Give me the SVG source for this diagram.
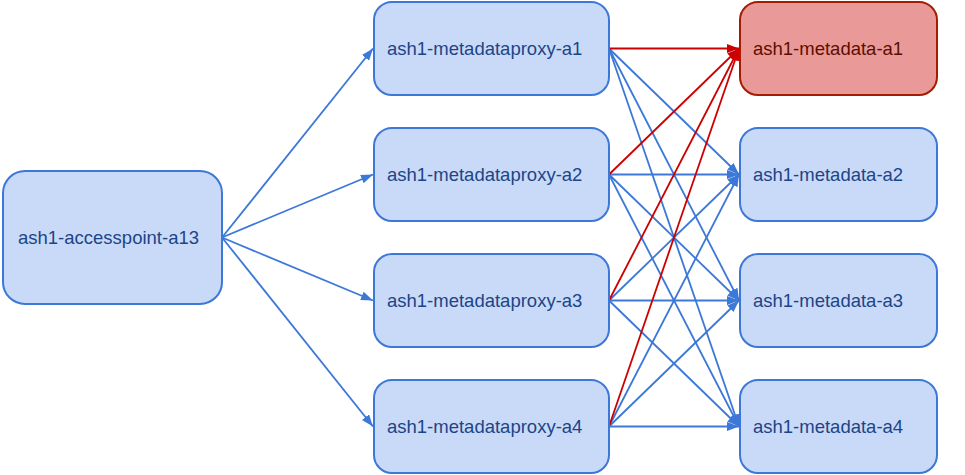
<svg xmlns="http://www.w3.org/2000/svg" width="965" height="475" viewBox="0 0 965 475">
<style>
.n rect{fill:#c9daf8;stroke:#3c78d8;stroke-width:2}
.n text{fill:#1c4587;font-family:"Liberation Sans",Arial,sans-serif;font-size:18.5px}
.r rect{fill:#ea9999;stroke:#a61c00;stroke-width:2}
.r text{fill:#5b0f00;font-family:"Liberation Sans",Arial,sans-serif;font-size:18.5px}
.e{fill:none;stroke:#3c78d8;stroke-width:1.8;marker-end:url(#ab)}
.er{fill:none;stroke:#cc0000;stroke-width:1.8;marker-end:url(#ar)}
</style>
<defs>
<marker id="ab" markerUnits="userSpaceOnUse" markerWidth="13" markerHeight="10" refX="12" refY="4.5" orient="auto"><path d="M0,0 L12,4.5 L0,9 z" fill="#3c78d8"/></marker>
<marker id="ar" markerUnits="userSpaceOnUse" markerWidth="13" markerHeight="10" refX="12" refY="4.5" orient="auto"><path d="M0,0 L12,4.5 L0,9 z" fill="#cc0000"/></marker>
</defs>
<g id="connectors">
<path class="e" d="M222,237.5 L373,48.5"/>
<path class="e" d="M222,237.5 L373,174.5"/>
<path class="e" d="M222,237.5 L373,300.5"/>
<path class="e" d="M222,237.5 L373,426.5"/>
<path class="e" d="M609,48.5 L739,174.5"/>
<path class="e" d="M609,48.5 L739,300.5"/>
<path class="e" d="M609,48.5 L739,426.5"/>
<path class="e" d="M609,174.5 L739,174.5"/>
<path class="e" d="M609,174.5 L739,300.5"/>
<path class="e" d="M609,174.5 L739,426.5"/>
<path class="e" d="M609,300.5 L739,174.5"/>
<path class="e" d="M609,300.5 L739,300.5"/>
<path class="e" d="M609,300.5 L739,426.5"/>
<path class="e" d="M609,426.5 L739,174.5"/>
<path class="e" d="M609,426.5 L739,300.5"/>
<path class="e" d="M609,426.5 L739,426.5"/>
<path class="er" d="M609,48.5 L739,48.5"/>
<path class="er" d="M609,174.5 L739,48.5"/>
<path class="er" d="M609,300.5 L739,48.5"/>
<path class="er" d="M609,426.5 L739,48.5"/>
</g>
<g id="accesspoint-a13" class="n"><rect x="3" y="171" width="219" height="133" rx="22"/><text x="18" y="244">ash1-accesspoint-a13</text></g>
<g id="metadataproxy-a1" class="n"><rect x="374" y="2" width="235" height="93" rx="18"/><text x="387" y="55">ash1-metadataproxy-a1</text></g>
<g id="metadataproxy-a2" class="n"><rect x="374" y="128" width="235" height="93" rx="18"/><text x="387" y="181">ash1-metadataproxy-a2</text></g>
<g id="metadataproxy-a3" class="n"><rect x="374" y="254" width="235" height="93" rx="18"/><text x="387" y="307">ash1-metadataproxy-a3</text></g>
<g id="metadataproxy-a4" class="n"><rect x="374" y="380" width="235" height="93" rx="18"/><text x="387" y="433">ash1-metadataproxy-a4</text></g>
<g id="metadata-a1" class="r"><rect x="740" y="2" width="197" height="93" rx="18"/><text x="753" y="55">ash1-metadata-a1</text></g>
<g id="metadata-a2" class="n"><rect x="740" y="128" width="197" height="93" rx="18"/><text x="753" y="181">ash1-metadata-a2</text></g>
<g id="metadata-a3" class="n"><rect x="740" y="254" width="197" height="93" rx="18"/><text x="753" y="307">ash1-metadata-a3</text></g>
<g id="metadata-a4" class="n"><rect x="740" y="380" width="197" height="93" rx="18"/><text x="753" y="433">ash1-metadata-a4</text></g>
</svg>
